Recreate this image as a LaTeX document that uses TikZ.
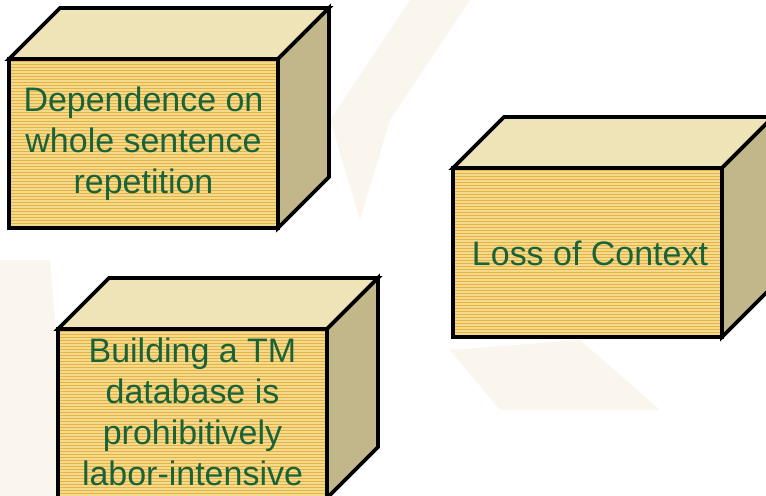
\documentclass[tikz,border=0pt]{standalone}
\usepackage{fontspec}
\setmainfont{Liberation Sans}
\definecolor{boxtop}{HTML}{EFE4B8}
\definecolor{boxside}{HTML}{C2B78A}
\definecolor{boxgold}{HTML}{E6B243}
\definecolor{boxlight}{HTML}{F4DA8C}
\definecolor{boxgreen}{HTML}{1A6238}
\definecolor{bgtint}{HTML}{FAF6EE}

\begin{document}
\begin{tikzpicture}[x=0.3cm,y=0.3cm]
\tikzstyle{every node}+=[inner sep=0pt]
\tikzset{
  boxedge/.style={draw=black, line width=3.2pt},
  topface/.style={boxedge, fill=boxtop},
  sideface/.style={boxedge, fill=boxside},
  stripe/.style={draw=boxlight, line width=1.1pt},
  boxtext/.style={align=center, text=boxgreen, font=\fontsize{29}{35}\selectfont}
}
\useasboundingbox (0,0) rectangle (76.6,-49.6);
\clip (0,0) rectangle (76.6,-49.6);
% faint background
\fill [bgtint] (33,-12) -- (41,0) -- (47,0) -- (39,-12) -- (36,-22) -- cycle;
\fill [bgtint] (0,-26) -- (5,-26) -- (7,-49.6) -- (0,-49.6) -- cycle;
\fill [bgtint] (45,-35) -- (58,-34) -- (66,-41) -- (50,-41) -- cycle;
% box 1
\filldraw [topface] (0.9,-5.9) -- (6,-0.8) -- (32.9,-0.8) -- (27.8,-5.9) -- cycle;
\filldraw [sideface] (27.8,-5.9) -- (32.9,-0.8) -- (32.9,-17.7) -- (27.8,-22.8) -- cycle;
\fill [boxgold] (0.9,-5.9) rectangle (27.8,-22.8);
\begin{scope}
\clip (0.9,-5.9) rectangle (27.8,-22.8);
\foreach \k in {0,...,57} \draw [stripe] (0.9,-6-0.3*\k) -- (27.8,-6-0.3*\k);
\end{scope}
\draw [boxedge] (0.9,-5.9) rectangle (27.8,-22.8);
\node [boxtext] (dependence) at (14.35,-14.4) {Dependence on\\whole sentence\\repetition};
% box 2
\filldraw [topface] (45.3,-16.8) -- (50.4,-11.7) -- (77.3,-11.7) -- (72.2,-16.8) -- cycle;
\filldraw [sideface] (72.2,-16.8) -- (77.3,-11.7) -- (77.3,-28.6) -- (72.2,-33.7) -- cycle;
\fill [boxgold] (45.3,-16.8) rectangle (72.2,-33.7);
\begin{scope}
\clip (45.3,-16.8) rectangle (72.2,-33.7);
\foreach \k in {0,...,57} \draw [stripe] (45.3,-16.9-0.3*\k) -- (72.2,-16.9-0.3*\k);
\end{scope}
\draw [boxedge] (45.3,-16.8) rectangle (72.2,-33.7);
\node [boxtext] (context) at (59,-25.3) {Loss of Context};
% box 3
\filldraw [topface] (5.8,-32.9) -- (10.9,-27.8) -- (37.8,-27.8) -- (32.7,-32.9) -- cycle;
\filldraw [sideface] (32.7,-32.9) -- (37.8,-27.8) -- (37.8,-44.7) -- (32.7,-49.8) -- cycle;
\fill [boxgold] (5.8,-32.9) rectangle (32.7,-49.8);
\begin{scope}
\clip (5.8,-32.9) rectangle (32.7,-49.8);
\foreach \k in {0,...,57} \draw [stripe] (5.8,-33-0.3*\k) -- (32.7,-33-0.3*\k);
\end{scope}
\draw [boxedge] (5.8,-32.9) rectangle (32.7,-49.8);
\node [boxtext] (building) at (19.25,-41.2) {Building a TM\\database is\\prohibitively\\labor-intensive};
\end{tikzpicture}
\end{document}
